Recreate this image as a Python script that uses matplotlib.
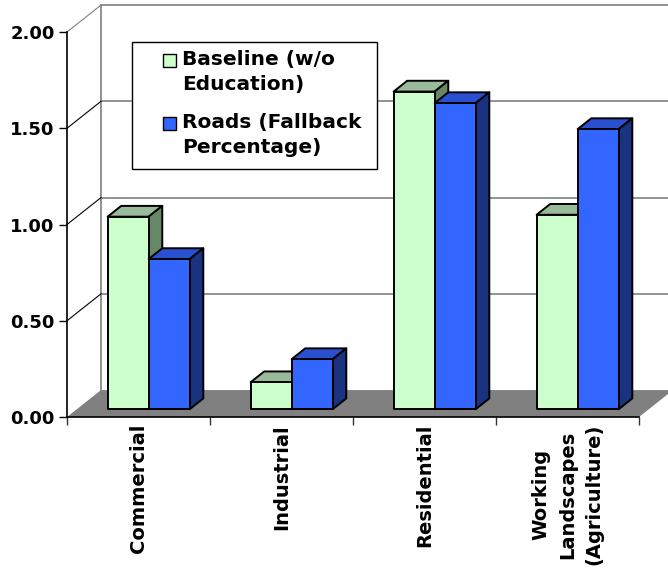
import matplotlib.pyplot as plt
from matplotlib.patches import Polygon, Rectangle
from matplotlib.ticker import FormatStrFormatter

categories = ['Commercial', 'Industrial', 'Residential', 'Working\nLandscapes\n(Agriculture)']
baseline = [1.00, 0.14, 1.65, 1.01]
roads = [0.78, 0.26, 1.59, 1.455]
series_names = ['Baseline (w/o\nEducation)', 'Roads (Fallback\nPercentage)']
y_ticks = [0.0, 0.5, 1.0, 1.5, 2.0]

# face colours: front, top, side
GREEN = ('#CCFFCC', '#99BB99', '#668866')
BLUE = ('#3366FF', '#2850D0', '#1A3380')

# oblique depth of the plot box, in data units
DX, DY = 0.238, 0.14
F0, F1 = 0.29, 0.69   # bar front/back depth fractions
BAR_W = 0.287
BAR_X0 = 0.215

W, H = 668, 569

plt.rcParams['font.family'] = 'DejaVu Sans'
plt.rcParams['font.weight'] = 'bold'

fig = plt.figure(figsize=(W / 100, H / 100), dpi=100)
ax = fig.add_axes([67 / W, (H - 417) / H, 572 / W, 385 / H])
ax.set_xlim(0, 4)
ax.set_ylim(0, 2)
ax.patch.set_visible(False)


def box(x0, v, colors):
    x1 = x0 + BAR_W
    ox0, oy0 = F0 * DX, F0 * DY
    ox1, oy1 = F1 * DX, F1 * DY
    top = [(x0 + ox0, v + oy0), (x1 + ox0, v + oy0), (x1 + ox1, v + oy1), (x0 + ox1, v + oy1)]
    side = [(x1 + ox0, oy0), (x1 + ox1, oy1), (x1 + ox1, v + oy1), (x1 + ox0, v + oy0)]
    front = [(x0 + ox0, oy0), (x1 + ox0, oy0), (x1 + ox0, v + oy0), (x0 + ox0, v + oy0)]
    for pts, c in ((top, colors[1]), (side, colors[2]), (front, colors[0])):
        ax.add_patch(Polygon(pts, closed=True, facecolor=c, edgecolor='black',
                             lw=1.4, joinstyle='round', clip_on=False, zorder=3))


# floor
ax.add_patch(Polygon([(0, 0), (4, 0), (4 + DX, DY), (DX, DY)], closed=True,
                     facecolor='#808080', edgecolor='none', clip_on=False, zorder=1))

# back wall and gridlines
ax.plot([DX, DX], [DY, 2 + DY], color='#808080', lw=1.2, clip_on=False, zorder=0)
for v in y_ticks[1:]:
    ax.plot([DX, 4 + DX], [v + DY, v + DY], color='#808080', lw=1.2, clip_on=False, zorder=0)
    ax.plot([0, DX], [v, v + DY], color='#808080' if v == 2.0 else 'black',
            lw=0.8, clip_on=False, zorder=0)

for i in range(len(categories)):
    box(i + BAR_X0, baseline[i], GREEN)
    box(i + BAR_X0 + BAR_W, roads[i], BLUE)

# axes
for s in ('top', 'right'):
    ax.spines[s].set_visible(False)
ax.spines['left'].set_linewidth(1.2)
ax.spines['bottom'].set_linewidth(1.2)
ax.spines['bottom'].set_zorder(4)
ax.set_yticks(y_ticks)
ax.yaxis.set_major_formatter(FormatStrFormatter('%.2f'))
ax.tick_params(axis='y', length=6, width=1, labelsize=13, pad=3)
ax.set_xticks([0, 1, 2, 3, 4])
ax.set_xticklabels([])
ax.tick_params(axis='x', which='major', length=6, width=1, colors='#333333')
ax.set_xticks([0.5, 1.5, 2.5, 3.5], minor=True)
ax.set_xticklabels(categories, minor=True, rotation=90, fontsize=14,
                   fontweight='bold', linespacing=1.5, va='top', ha='center')
ax.tick_params(axis='x', which='minor', length=0, pad=5)
for lbl in ax.get_yticklabels():
    lbl.set_fontweight('bold')

# legend box, laid out by hand so each swatch sits on its first text line
to_fig = lambda px, py: (px / W, 1 - py / H)
lx0, ly0 = to_fig(132, 169)
lx1, ly1 = to_fig(377, 42)
fig.add_artist(Rectangle((lx0, ly0), lx1 - lx0, ly1 - ly0, transform=fig.transFigure,
                         facecolor='white', edgecolor='black', lw=1, zorder=5))
for name, colors, top_px in zip(series_names, (GREEN, BLUE), (50, 113)):
    sx, sy = to_fig(163, top_px + 17)
    fig.add_artist(Rectangle((sx, sy), 13 / W, 13 / H, transform=fig.transFigure,
                             facecolor=colors[0], edgecolor='black', lw=1, zorder=6))
    tx, ty = to_fig(182, top_px)
    fig.text(tx, ty, name, fontsize=14.5, fontweight='bold', va='top', ha='left',
             linespacing=1.42, zorder=6)

fig.savefig('out.png', dpi=100)
